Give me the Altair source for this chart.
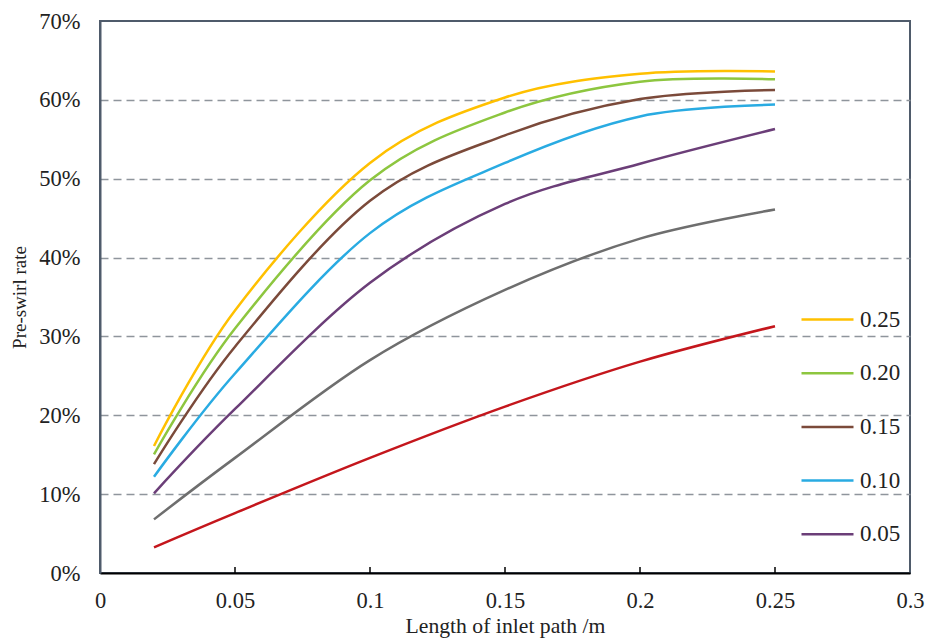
import altair as alt
import pandas as pd

x_vals = [0.02, 0.05, 0.10, 0.15, 0.20, 0.25]

series_names = ["0.25", "0.20", "0.15", "0.10", "0.05", "unlabeled A", "unlabeled B"]
yellow = [16.1, 33.3, 52.0, 60.3, 63.3, 63.6]
green = [15.05, 31.0, 49.8, 58.4, 62.3, 62.6]
brown = [13.8, 28.7, 47.2, 55.5, 60.1, 61.25]
blue = [12.2, 25.3, 43.1, 52.0, 57.9, 59.4]
purple = [10.1, 20.8, 36.8, 46.8, 51.9, 56.3]
gray = [6.8, 14.6, 27.0, 35.9, 42.4, 46.1]
red = [3.26, 7.6, 14.6, 21.1, 26.8, 31.3]
series_values = [yellow, green, brown, blue, purple, gray, red]
series_colors = ["#FFC000", "#8DC63F", "#7B4A3A", "#29ABE2", "#6B3E78", "#6E6E6E", "#C4161C"]

legend_names = ["0.25", "0.20", "0.15", "0.10", "0.05"]
x_ticks = [0, 0.05, 0.1, 0.15, 0.2, 0.25, 0.3]
inner_ticks = [0.05, 0.1, 0.15, 0.2, 0.25]
y_ticks = [0, 0.1, 0.2, 0.3, 0.4, 0.5, 0.6, 0.7]

rows = []
for name, vals in zip(series_names, series_values):
    for order, (xv, yv) in enumerate(zip(x_vals, vals)):
        rows.append({"series": name, "x": xv, "y": yv / 100.0, "order": order})
df = pd.DataFrame(rows)
ticks_df = pd.DataFrame({"x": inner_ticks})

FONT = "Liberation Serif"
TXT = "#222222"
FRAME = "#4F5B6B"

x_scale = alt.Scale(domain=[0, 0.3], nice=False, zero=False)
y_scale = alt.Scale(domain=[0, 0.7], nice=False)

lines = alt.Chart(df).mark_line(strokeWidth=2.5, interpolate="cardinal").encode(
    x=alt.X("x:Q", scale=x_scale,
            axis=alt.Axis(values=x_ticks, format="~g", title="Length of inlet path /m",
                          grid=False, ticks=False, domainColor="#000000", domainWidth=2,
                          labelPadding=16, labelFontSize=22.5, labelFont=FONT, labelColor=TXT,
                          titleFont=FONT, titleFontSize=21.7, titleFontWeight="normal",
                          titleColor=TXT, titlePadding=4, labelFlush=False)),
    y=alt.Y("y:Q", scale=y_scale,
            axis=alt.Axis(values=y_ticks, format=".0%", title="Pre-swirl rate",
                          grid=True, gridDash=[8, 5], gridColor="#8F959C", gridWidth=1.5,
                          gridOpacity={"condition": {"test": "datum.value <= 0 || datum.value >= 0.69", "value": 0}, "value": 1},
                          ticks=False, domainColor=FRAME, domainWidth=2,
                          labelPadding=20, labelFontSize=22.5, labelFont=FONT, labelColor=TXT,
                          titleFont=FONT, titleFontSize=19, titleFontWeight="normal",
                          titleColor=TXT, titlePadding=9)),
    color=alt.Color("series:N",
                    scale=alt.Scale(domain=series_names, range=series_colors),
                    legend=alt.Legend(values=legend_names, title=None, orient="none",
                                      legendX=700, legendY=271, symbolType="stroke",
                                      symbolSize=2704, symbolStrokeWidth=2.5,
                                      labelFont=FONT, labelFontSize=23, labelColor=TXT,
                                      labelOffset=5, rowPadding=13.7, padding=0)),
    order="order:Q",
)

tick_marks = alt.Chart(ticks_df).mark_rule(color="#000000", strokeWidth=1.5).encode(
    x=alt.X("x:Q", scale=x_scale),
    y=alt.value(552),
    y2=alt.value(546),
)

chart = alt.layer(lines, tick_marks).properties(
    width=810, height=552,
    autosize=alt.AutoSizeParams(type="none"),
    padding={"left": 100, "top": 21, "right": 18, "bottom": 70},
    background="white",
).configure_view(stroke=FRAME, strokeWidth=2)

chart.save("out.html", embed_options={"renderer": "svg", "actions": False})
